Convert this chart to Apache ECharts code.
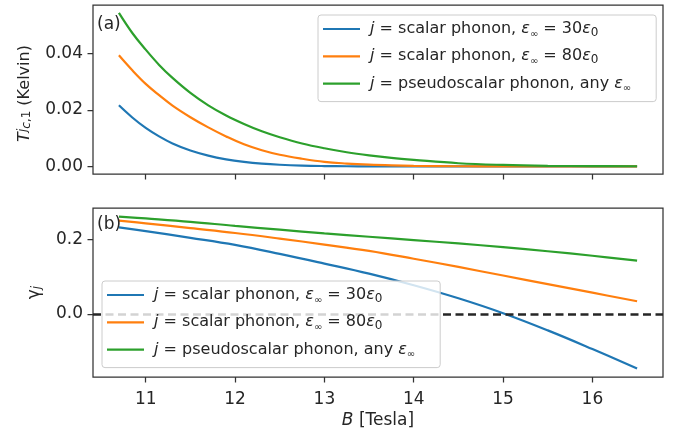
<!DOCTYPE html>
<html>
<head>
<meta charset="utf-8">
<script src="https://cdn.jsdelivr.net/npm/echarts@6/dist/echarts.min.js"></script>
<style>
html,body{margin:0;padding:0;background:#fff;}
#chart{width:673px;height:433px;}
</style>
</head>
<body>
<div id="chart"></div>
<script>
// ---- data ----
var seriesNames = ['scalar30', 'scalar80', 'pseudo'];
var colors = ['#1f77b4', '#ff7f0e', '#2ca02c'];

// Panel (a): T_c,1 (Kelvin) vs B
var bTop = [10.7, 10.85, 11.0, 11.15, 11.3, 11.5, 11.7, 11.9, 12.1, 12.3, 12.5, 12.75, 13.0, 13.25, 13.5, 13.75, 14.0, 14.5, 15.0, 15.5, 16.0, 16.5];
var tcScalar30 = [0.0216, 0.0173, 0.0136, 0.0106, 0.0081, 0.0056, 0.0038, 0.0025, 0.0016, 0.00097, 0.00057, 0.00027, 0.00012, 0.00005, 0.00002, 0.00001, 0, 0, 0, 0, 0, 0];
var tcScalar80 = [0.0393, 0.0340, 0.0292, 0.0252, 0.0215, 0.0174, 0.0138, 0.0106, 0.0078, 0.0057, 0.0041, 0.0027, 0.0016, 0.0010, 0.0006, 0.00035, 0.0002, 0.00005, 0.00001, 0, 0, 0];
var tcPseudo   = [0.0543, 0.0472, 0.0413, 0.0359, 0.0313, 0.0260, 0.0216, 0.0180, 0.0150, 0.0124, 0.0103, 0.0081, 0.0064, 0.0050, 0.0039, 0.0030, 0.0023, 0.0011, 0.0005, 0.0002, 0.0001, 0.00004];

// Panel (b): gamma_j vs B
var bBot = [10.7, 11.0, 11.5, 12.0, 12.5, 13.0, 13.5, 14.0, 14.5, 15.0, 15.5, 16.0, 16.5];
var gScalar30 = [0.232, 0.222, 0.204, 0.185, 0.161, 0.135, 0.108, 0.077, 0.042, 0.002, -0.044, -0.094, -0.146];
var gScalar80 = [0.250, 0.243, 0.230, 0.217, 0.202, 0.186, 0.169, 0.148, 0.126, 0.103, 0.080, 0.057, 0.034];
var gPseudo   = [0.261, 0.256, 0.247, 0.236, 0.226, 0.216, 0.207, 0.198, 0.189, 0.179, 0.168, 0.156, 0.143];

var xTicks = [11, 12, 13, 14, 15, 16];
var yTicksTop = [0, 0.02, 0.04];
var yTicksBot = [0, 0.2];
var refLineY = 0;

// ---- helpers ----
function pairs(xs, ys) { return xs.map(function (x, i) { return [x, ys[i]]; }); }

var legendLabels = {
  scalar30: '{i|j} = scalar phonon, {i|ε}{s|∞} = 30{i|ε}{z|0}',
  scalar80: '{i|j} = scalar phonon, {i|ε}{s|∞} = 80{i|ε}{z|0}',
  pseudo: '{i|j} = pseudoscalar phonon, any {i|ε}{s|∞}'
};

var FONT = 'DejaVu Sans';
var TXT = '#262626';
var EDGE = '#333333';
var LFS = 16;

var legendRich = {
  i: { fontStyle: 'italic', fontSize: LFS, fontFamily: FONT, color: TXT },
  s: { fontSize: 10, fontFamily: FONT, color: TXT, verticalAlign: 'bottom', lineHeight: 10 },
  z: { fontSize: 12, fontFamily: FONT, color: TXT, verticalAlign: 'bottom', lineHeight: 12 }
};

function legendCfg(left, top, padRight) {
  return {
    show: true,
    z: 10,
    orient: 'vertical',
    left: left,
    top: top,
    data: seriesNames.slice(),
    icon: 'rect',
    itemWidth: 37,
    itemHeight: 2.2,
    itemGap: 7.3,
    padding: [4, padRight, 8, 5],
    backgroundColor: 'rgba(255,255,255,0.8)',
    borderColor: '#cccccc',
    borderWidth: 1,
    borderRadius: 3,
    selectedMode: false,
    formatter: function (name) { return ' ' + legendLabels[name]; },
    textStyle: { fontSize: LFS, fontFamily: FONT, color: TXT, lineHeight: 20, rich: legendRich }
  };
}

function xAxisCfg(gridIndex, showLabels) {
  var c = {
    type: 'value',
    gridIndex: gridIndex,
    min: 10.41,
    max: 16.79,
    axisLine: { show: false, onZero: false },
    splitLine: { show: false },
    axisTick: { show: true, inside: false, length: 5.5, lineStyle: { color: EDGE, width: 1.25 }, customValues: xTicks },
    axisLabel: { show: showLabels, customValues: xTicks, margin: 14, fontSize: 17, fontFamily: FONT, color: TXT }
  };
  if (showLabels) {
    c.name = '{i|B} [Tesla]';
    c.nameLocation = 'middle';
    c.nameGap = 35;
    c.nameTextStyle = { fontSize: 17, fontFamily: FONT, color: TXT, rich: { i: { fontStyle: 'italic', fontSize: 17, fontFamily: FONT, color: TXT } } };
  }
  return c;
}

var option = {
  backgroundColor: '#ffffff',
  animation: false,
  color: colors,
  textStyle: { fontFamily: FONT },
  grid: [
    { left: 93, right: 10, top: 5, height: 169, show: true, borderColor: EDGE, borderWidth: 1.25, containLabel: false, outerBoundsMode: 'none' },
    { left: 93, right: 10, top: 208, height: 169, show: true, borderColor: EDGE, borderWidth: 1.25, containLabel: false, outerBoundsMode: 'none' }
  ],
  xAxis: [xAxisCfg(0, false), xAxisCfg(1, true)],
  yAxis: [
    {
      type: 'value', gridIndex: 0, min: -0.0027, max: 0.0571,
      axisLine: { show: false, onZero: false }, splitLine: { show: false },
      axisTick: { show: true, inside: false, length: 5.5, lineStyle: { color: EDGE, width: 1.25 }, customValues: yTicksTop },
      axisLabel: { customValues: yTicksTop, margin: 10, fontSize: 17, fontFamily: FONT, color: TXT,
        formatter: function (v) { return v.toFixed(2); } },
      name: '{i|T}{p|j}{b|c}{q|,1} (Kelvin)',
      nameLocation: 'middle', nameRotate: 90, nameGap: 60,
      nameTextStyle: { fontSize: 16, fontFamily: FONT, color: TXT, padding: [0, 8, 0, 0], rich: {
        i: { fontStyle: 'italic', fontSize: 16, fontFamily: FONT, color: TXT },
        p: { fontStyle: 'italic', fontSize: 12, fontFamily: FONT, color: TXT, verticalAlign: 'top', lineHeight: 12 },
        b: { fontStyle: 'italic', fontSize: 12, fontFamily: FONT, color: TXT, verticalAlign: 'bottom', lineHeight: 12 },
        q: { fontSize: 12, fontFamily: FONT, color: TXT, verticalAlign: 'bottom', lineHeight: 12 }
      } }
    },
    {
      type: 'value', gridIndex: 1, min: -0.169, max: 0.284,
      axisLine: { show: false, onZero: false }, splitLine: { show: false },
      axisTick: { show: true, inside: false, length: 5.5, lineStyle: { color: EDGE, width: 1.25 }, customValues: yTicksBot },
      axisLabel: { customValues: yTicksBot, margin: 10, fontSize: 17, fontFamily: FONT, color: TXT,
        formatter: function (v) { return v.toFixed(1); } },
      name: '{i|γ}{b|j}',
      nameLocation: 'middle', nameRotate: 90, nameGap: 50,
      nameTextStyle: { fontSize: 17, fontFamily: FONT, color: TXT, rich: {
        i: { fontSize: 17, fontFamily: FONT, color: TXT },
        b: { fontStyle: 'italic', fontSize: 12, fontFamily: FONT, color: TXT, verticalAlign: 'bottom', lineHeight: 12 }
      } }
    }
  ],
  legend: [legendCfg(318, 15, 25), legendCfg(102, 281, 25)],
  graphic: [
    { type: 'text', left: 97, top: 16, z: 20, style: { text: '(a)', fontSize: 17, fontFamily: FONT, fill: TXT } },
    { type: 'text', left: 97, top: 216, z: 20, style: { text: '(b)', fontSize: 17, fontFamily: FONT, fill: TXT } }
  ],
  series: [
    { name: seriesNames[0], type: 'line', xAxisIndex: 0, yAxisIndex: 0, data: pairs(bTop, tcScalar30), showSymbol: false, smooth: 0.4, lineStyle: { width: 2.2, color: colors[0] }, itemStyle: { color: colors[0] } },
    { name: seriesNames[1], type: 'line', xAxisIndex: 0, yAxisIndex: 0, data: pairs(bTop, tcScalar80), showSymbol: false, smooth: 0.4, lineStyle: { width: 2.2, color: colors[1] }, itemStyle: { color: colors[1] } },
    { name: seriesNames[2], type: 'line', xAxisIndex: 0, yAxisIndex: 0, data: pairs(bTop, tcPseudo), showSymbol: false, smooth: 0.4, lineStyle: { width: 2.2, color: colors[2] }, itemStyle: { color: colors[2] } },
    { name: seriesNames[0], type: 'line', xAxisIndex: 1, yAxisIndex: 1, data: pairs(bBot, gScalar30), showSymbol: false, smooth: 0.4, lineStyle: { width: 2.2, color: colors[0] }, itemStyle: { color: colors[0] },
      markLine: { silent: true, symbol: ['none', 'none'], label: { show: false }, animation: false,
        lineStyle: { color: '#262626', width: 2.6, type: [8, 4.5], opacity: 1 }, data: [{ yAxis: refLineY }] } },
    { name: seriesNames[1], type: 'line', xAxisIndex: 1, yAxisIndex: 1, data: pairs(bBot, gScalar80), showSymbol: false, smooth: 0.4, lineStyle: { width: 2.2, color: colors[1] }, itemStyle: { color: colors[1] } },
    { name: seriesNames[2], type: 'line', xAxisIndex: 1, yAxisIndex: 1, data: pairs(bBot, gPseudo), showSymbol: false, smooth: 0.4, lineStyle: { width: 2.2, color: colors[2] }, itemStyle: { color: colors[2] } }
  ]
};

var chart = echarts.init(document.getElementById('chart'), null, { renderer: 'canvas' });
chart.setOption(option);
</script>
</body>
</html>
